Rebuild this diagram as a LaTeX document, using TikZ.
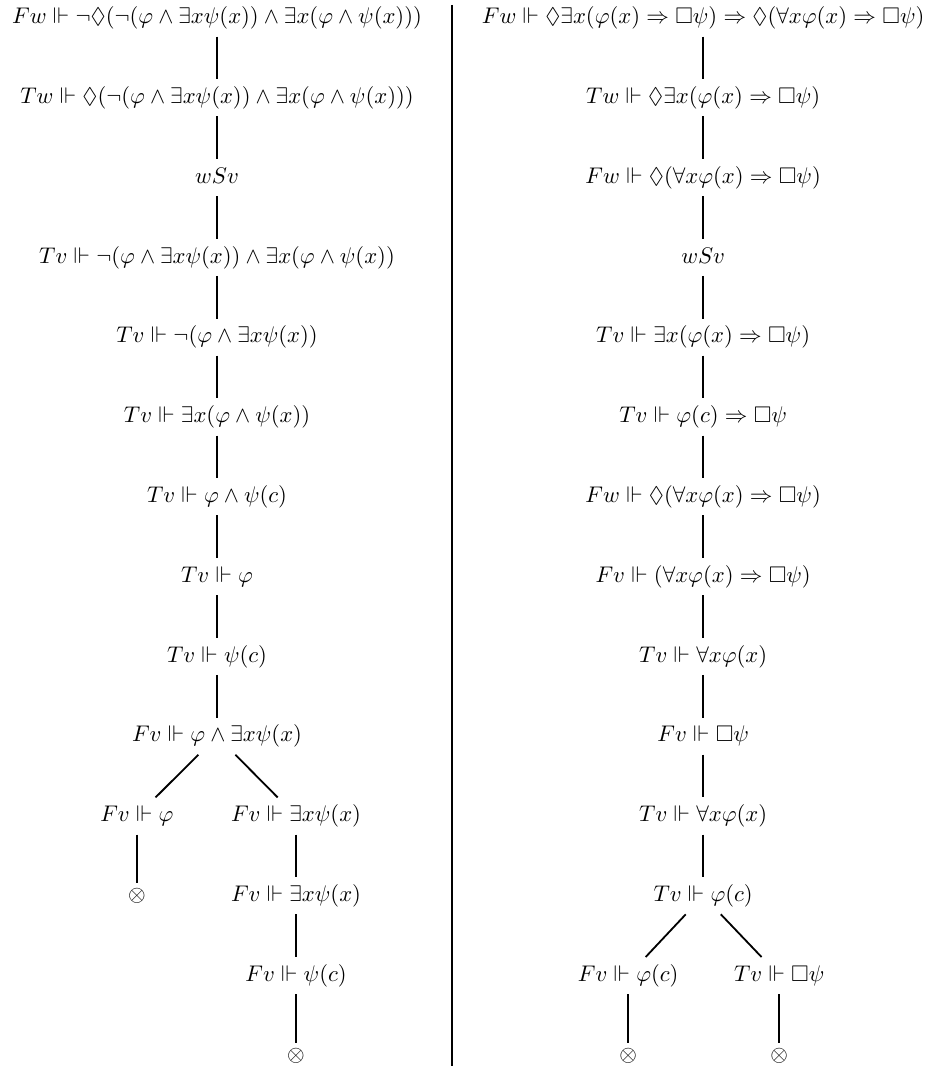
\documentclass[tikz,border=0pt]{standalone}
\usepackage{amssymb}
\usetikzlibrary{positioning}

\begin{document}
\begin{tikzpicture}
    \tikzset{
        formula/.style = {inner sep=3pt, text height=7.5pt, text depth=2.5pt},
        closed/.style = {inner sep=2pt, text height=5.8pt, text depth=0.8pt},
        line/.style = {draw, thick},
        sep/.style = {draw, very thick},
        node distance = 18.86pt,
    }

    \useasboundingbox (-95.9pt,7.95pt) rectangle (313.7pt,-464.85pt);

    % left tableau
    \node[formula](l0){$Fw \Vdash \neg\Diamond(\neg(\varphi \wedge \exists x\psi(x)) \wedge \exists x(\varphi \wedge \psi(x)))$};

    \node[formula](l1)[below = of l0]{$Tw \Vdash \Diamond(\neg(\varphi \wedge \exists x\psi(x)) \wedge \exists x(\varphi \wedge \psi(x)))$};

    \node[formula](l2)[below = of l1]{$wSv$};

    \node[formula](l3)[below = of l2]{$Tv \Vdash \neg(\varphi \wedge \exists x\psi(x)) \wedge \exists x(\varphi \wedge \psi(x))$};

    \node[formula](l4)[below = of l3]{$Tv \Vdash \neg(\varphi \wedge \exists x\psi(x))$};

    \node[formula](l5)[below = of l4]{$Tv \Vdash \exists x(\varphi \wedge \psi(x))$};

    \node[formula](l6)[below = of l5]{$Tv \Vdash \varphi \wedge \psi(c)$};

    \node[formula](l7)[below = of l6]{$Tv \Vdash \varphi$};

    \node[formula](l8)[below = of l7]{$Tv \Vdash \psi(c)$};

    \node[formula](l9)[below = of l8]{$Fv \Vdash \varphi \wedge \exists x\psi(x)$};

    \node[formula](l10a)[below = of l9, xshift=-35.4pt]{$Fv \Vdash \varphi$};

    \node[formula](l10b)[below = of l9, xshift=34.9pt]{$Fv \Vdash \exists x\psi(x)$};

    \node[closed](l11a)[below = 21.56pt of l10a]{$\otimes$};

    \node[formula](l11b)[below = of l10b]{$Fv \Vdash \exists x\psi(x)$};

    \node[formula](l12b)[below = of l11b]{$Fv \Vdash \psi(c)$};

    \node[closed](l13b)[below = 21.56pt of l12b]{$\otimes$};

    \path [line] (l0) -- (l1);
    \path [line] (l1) -- (l2);
    \path [line] (l2) -- (l3);
    \path [line] (l3) -- (l4);
    \path [line] (l4) -- (l5);
    \path [line] (l5) -- (l6);
    \path [line] (l6) -- (l7);
    \path [line] (l7) -- (l8);
    \path [line] (l8) -- (l9);
    \path [line] (l9) -- (l10a);
    \path [line] (l9) -- (l10b);
    \path [line] (l10a) -- (l11a);
    \path [line] (l10b) -- (l11b);
    \path [line] (l11b) -- (l12b);
    \path [line] (l12b) -- (l13b);

    % separator
    \coordinate (septop) at (103.8pt,5.74pt);
    \coordinate (sepbot) at (103.8pt,-463.1pt);
    \path [sep] (septop) -- (sepbot);

    % right tableau
    \node[formula](r0) at ([xshift=214.8pt]l0.center){$Fw \Vdash \Diamond\exists x(\varphi(x) \Rightarrow \Box\psi) \Rightarrow \Diamond(\forall x\varphi(x) \Rightarrow \Box\psi)$};

    \node[formula](r1)[below = of r0]{$Tw \Vdash \Diamond\exists x(\varphi(x) \Rightarrow \Box\psi)$};

    \node[formula](r2)[below = of r1]{$Fw \Vdash \Diamond(\forall x\varphi(x) \Rightarrow \Box\psi)$};

    \node[formula](r3)[below = of r2]{$wSv$};

    \node[formula](r4)[below = of r3]{$Tv \Vdash \exists x(\varphi(x) \Rightarrow \Box\psi)$};

    \node[formula](r5)[below = of r4]{$Tv \Vdash \varphi(c) \Rightarrow \Box\psi$};

    \node[formula](r6)[below = of r5]{$Fw \Vdash \Diamond(\forall x\varphi(x) \Rightarrow \Box\psi)$};

    \node[formula](r7)[below = of r6]{$Fv \Vdash (\forall x\varphi(x) \Rightarrow \Box\psi)$};

    \node[formula](r8)[below = of r7]{$Tv \Vdash \forall x\varphi(x)$};

    \node[formula](r9)[below = of r8]{$Fv \Vdash \Box\psi$};

    \node[formula](r10)[below = of r9]{$Tv \Vdash \forall x\varphi(x)$};

    \node[formula](r11)[below = of r10]{$Tv \Vdash \varphi(c)$};

    \node[formula](r12a)[below = of r11, xshift=-33.1pt]{$Fv \Vdash \varphi(c)$};

    \node[formula](r12b)[below = of r11, xshift=33.6pt]{$Tv \Vdash \Box\psi$};

    \node[closed](r13a)[below = 21.56pt of r12a]{$\otimes$};

    \node[closed](r13b)[below = 21.56pt of r12b]{$\otimes$};

    \path [line] (r0) -- (r1);
    \path [line] (r1) -- (r2);
    \path [line] (r2) -- (r3);
    \path [line] (r3) -- (r4);
    \path [line] (r4) -- (r5);
    \path [line] (r5) -- (r6);
    \path [line] (r6) -- (r7);
    \path [line] (r7) -- (r8);
    \path [line] (r8) -- (r9);
    \path [line] (r9) -- (r10);
    \path [line] (r10) -- (r11);
    \path [line] (r11) -- (r12a);
    \path [line] (r11) -- (r12b);
    \path [line] (r12a) -- (r13a);
    \path [line] (r12b) -- (r13b);

\end{tikzpicture}
\end{document}
